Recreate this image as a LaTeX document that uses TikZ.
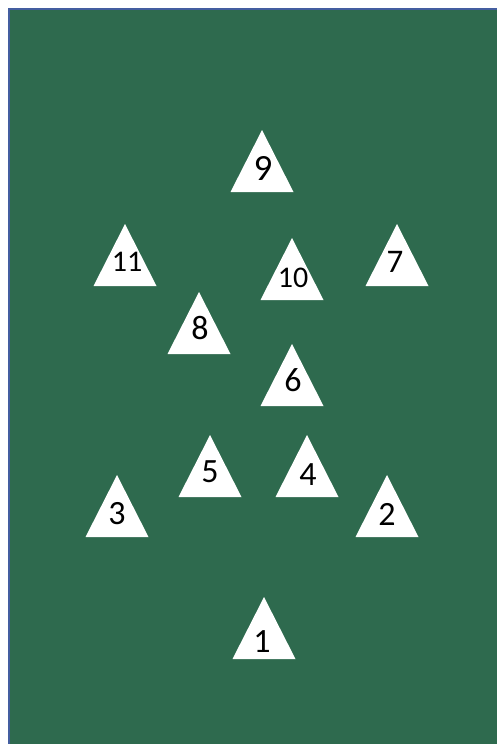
\documentclass[tikz,border=0pt]{standalone}
\usepackage{fontspec}
\setmainfont{Carlito}
\usetikzlibrary{positioning}
\definecolor{board}{RGB}{46,106,78}
\definecolor{rim}{RGB}{68,94,160}

\begin{document}
\begin{tikzpicture}[x=1pt, y=-1pt, tri/.style={fill=white}, num/.style={inner sep=0pt, text=black}]
\useasboundingbox (0,0) rectangle (496,744);
\fill[board] (8,8) rectangle (500,750);
\draw[rim, line width=2pt] (9,750) -- (9,9) -- (500,9);
\foreach \x/\y/\n/\s/\dx/\dy in {262/130/9/37/1/38, 125/224/11/30/2/38, 397/224/7/33/-2/38,
    292/238/10/30/1/40, 199/292/8/34/1/36, 292/344/6/34/1/36, 210/435/5/34/0/37,
    307/435/4/34/1/40, 117/475/3/34/0/39, 387/475/2/34/0/39, 264/597/1/34/-2/45}{
  \fill[tri] (\x,\y) -- ++(31.5,62) -- ++(-63,0) -- cycle;
  \node[num, font=\fontsize{\s}{\s}\selectfont] (t\n) at (\x+\dx,\y+\dy) {\n};
}
\end{tikzpicture}
\end{document}
